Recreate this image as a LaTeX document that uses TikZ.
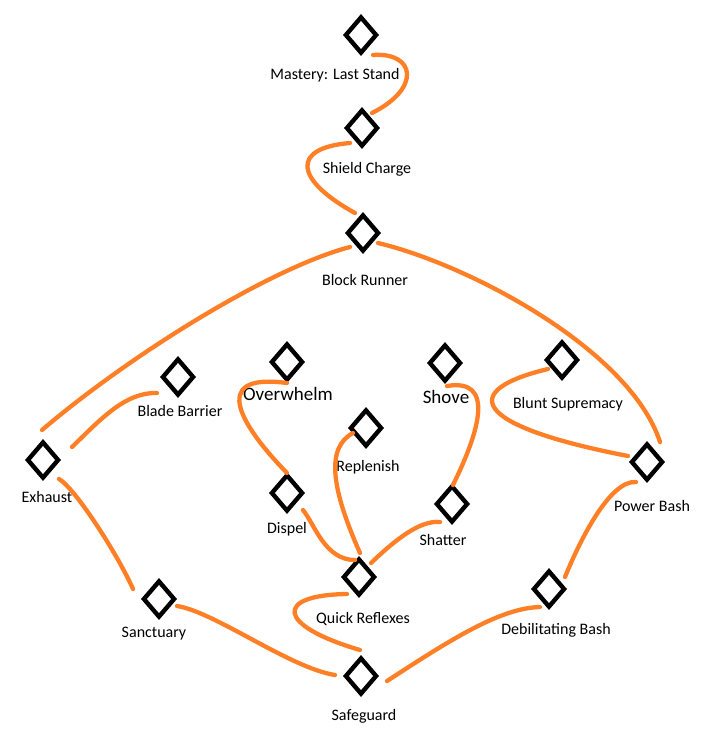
\documentclass[tikz,border=0pt]{standalone}
\usepackage{fontspec}
\setmainfont{Carlito}
\usetikzlibrary{shapes.geometric,calc}
\definecolor{paintorange}{RGB}{255,127,39}
\begin{document}
\begin{tikzpicture}[x=1pt,y=-1pt,
  skill/.style={draw=black,line width=4.4pt,diamond,minimum width=32pt,minimum height=37pt,inner sep=0pt},
  link/.style={draw=paintorange,line width=4.3pt,line cap=round},
  lbl/.style={inner sep=0pt,font=\fontsize{16}{18}\selectfont},
  biglbl/.style={inner sep=0pt,font=\fontsize{19}{21}\selectfont}]
\useasboundingbox (0,0) rectangle (708,746);
\node[skill] (mastery) at (361,35) {};
\node[skill] (shield) at (362,128) {};
\node[skill] (block) at (363,233) {};
\node[skill] (overwhelm) at (287,362) {};
\node[skill] (blade) at (178,377) {};
\node[skill] (exhaust) at (43,460) {};
\node[skill] (dispel) at (287,493) {};
\node[skill] (sanctuary) at (159,599) {};
\node[skill] (safeguard) at (361,676) {};
\node[skill] (quick) at (359,577) {};
\node[skill] (replenish) at (366,428) {};
\node[skill] (shove) at (445,363) {};
\node[skill] (shatter) at (452,504) {};
\node[skill] (blunt) at (562,360) {};
\node[skill] (power) at (647,462) {};
\node[skill] (debil) at (549,589) {};
\node[lbl] (masterytxt) at (335,75) {Mastery: Last Stand};
\node[lbl] (shieldtxt) at (367,169) {Shield Charge};
\node[lbl] (blocktxt) at (365,280) {Block Runner};
\node[biglbl] (overwhelmtxt) at (288,394) {Overwhelm};
\node[lbl] (bladetxt) at (180,411) {Blade Barrier};
\node[lbl] (exhausttxt) at (47,497) {Exhaust};
\node[lbl] (dispeltxt) at (287,529) {Dispel};
\node[lbl] (sanctuarytxt) at (154,634) {Sanctuary};
\node[lbl] (safeguardtxt) at (364,716) {Safeguard};
\node[lbl] (quicktxt) at (363,619) {Quick Reflexes};
\node[lbl] (replenishtxt) at (368,467) {Replenish};
\node[biglbl] (shovetxt) at (446,397) {Shove};
\node[lbl] (shattertxt) at (443,540) {Shatter};
\node[lbl] (blunttxt) at (568,404) {Blunt Supremacy};
\node[lbl] (powertxt) at (652,506) {Power Bash};
\node[lbl] (debiltxt) at (556,630) {Debilitating Bash};
\draw[link] ($(mastery)+(12,20)$) .. controls (415,52) and (422,88) .. ($(shield)+(10,-15)$);
\draw[link] ($(shield)+(-12,15)$) .. controls (290,148) and (295,180) .. ($(block)+(-8,-20)$);
\draw[link] ($(block)+(-13,14)$) .. controls (270,268) and (130,355) .. ($(exhaust)+(-1,-30)$);
\draw[link] ($(block)+(15,10)$) .. controls (470,265) and (630,350) .. ($(power)+(13,-20)$);
\draw[link] ($(exhaust)+(29,-13)$) .. controls (100,420) and (125,392) .. ($(blade)+(-21,16)$);
\draw[link] ($(exhaust)+(16,19)$) .. controls (75,488) and (118,555) .. ($(sanctuary)+(-26,-10)$);
\draw[link] ($(sanctuary)+(18,7)$) .. controls (215,612) and (290,668) .. ($(safeguard)+(-26,-1)$);
\draw[link] ($(overwhelm)+(0,21)$) .. controls (205,372) and (245,430) .. ($(dispel)+(0,-20)$);
\draw[link] ($(dispel)+(16,17)$) .. controls (315,525) and (325,560) .. ($(quick)+(-4,-17)$);
\draw[link] ($(replenish)+(-13,5)$) .. controls (325,448) and (332,490) .. ($(quick)+(1,-24)$);
\draw[link] ($(shove)+(2,23)$) .. controls (495,378) and (480,430) .. ($(shatter)+(1,-19)$);
\draw[link] ($(shatter)+(-12,18)$) .. controls (420,520) and (395,540) .. ($(quick)+(12,-14)$);
\draw[link] ($(blunt)+(-14,9)$) .. controls (460,390) and (468,425) .. ($(power)+(-19,-6)$);
\draw[link] ($(power)+(-11,20)$) .. controls (610,480) and (580,540) .. ($(debil)+(16,-12)$);
\draw[link] ($(debil)+(-9,18)$) .. controls (500,608) and (450,640) .. ($(safeguard)+(26,5)$);
\draw[link] ($(quick)+(-12,17)$) .. controls (275,595) and (275,625) .. ($(safeguard)+(-1,-26)$);
\end{tikzpicture}
\end{document}
